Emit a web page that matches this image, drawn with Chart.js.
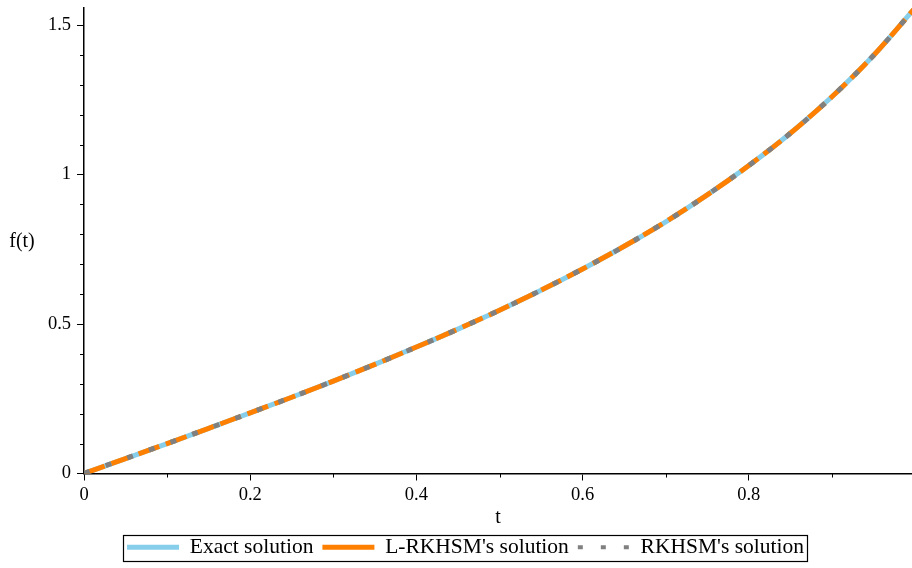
<!DOCTYPE html>
<html>
<head>
<meta charset="utf-8">
<script src="https://cdn.jsdelivr.net/npm/chart.js@4/dist/chart.umd.min.js"></script>
<style>
html,body{margin:0;padding:0;background:#fff;overflow:hidden;}
#wrap{width:916px;height:568px;position:relative;}
</style>
</head>
<body>
<div id="wrap"><canvas id="c"></canvas></div>
<script>
// ---- data ----
const tValues = [0,0.05,0.1,0.15,0.2,0.25,0.3,0.35,0.4,0.45,0.5,0.55,0.6,0.65,0.7,0.75,0.8,0.85,0.9,0.95,1.0];
const exactSolution = [0,0.050,0.100,0.151,0.203,0.255,0.309,0.365,0.423,0.483,0.546,0.613,0.684,0.760,0.842,0.932,1.030,1.138,1.260,1.398,1.557];
const lrkhsmSolution = [0,0.050,0.100,0.151,0.203,0.255,0.309,0.365,0.423,0.483,0.546,0.613,0.684,0.760,0.842,0.932,1.030,1.138,1.260,1.398,1.557];
const rkhsmSolution = [0,0.050,0.100,0.151,0.203,0.255,0.309,0.365,0.423,0.483,0.546,0.613,0.684,0.760,0.842,0.932,1.030,1.138,1.260,1.398,1.557];
const seriesNames = ["Exact solution", "L-RKHSM's solution", "RKHSM's solution"];
const xMajorTicks = [0,0.2,0.4,0.6,0.8];
const xMinorTicks = [0.1,0.3,0.5,0.7,0.9];
const yMajorTicks = [0,0.5,1,1.5];
const yMinorTicks = [0.1,0.2,0.3,0.4,0.6,0.7,0.8,0.9,1.1,1.2,1.3,1.4];

const FONT = "'Liberation Serif', 'Times New Roman', serif";
const toPts = ys => tValues.map((t,i)=>({x:t,y:ys[i]}));

const legendStyle = [
  {width:5, dash:[]},
  {width:5, dash:[]},
  {width:4, dash:[5,18]}
];

const extrasPlugin = {
  id:'extras',
  afterDraw(chart){
    const ctx = chart.ctx, xs = chart.scales.x, ys = chart.scales.y;
    const a = chart.chartArea;
    ctx.save();
    ctx.strokeStyle = '#000';
    ctx.lineWidth = 1;
    ctx.beginPath();
    xMinorTicks.forEach(v=>{
      const px = Math.round(xs.getPixelForValue(v))+0.5;
      ctx.moveTo(px, a.bottom); ctx.lineTo(px, a.bottom+4);
    });
    yMinorTicks.forEach(v=>{
      const py = Math.round(ys.getPixelForValue(v))+0.5;
      ctx.moveTo(a.left-4, py); ctx.lineTo(a.left, py);
    });
    ctx.stroke();
    // axis titles
    ctx.fillStyle = '#000';
    ctx.font = "20px " + FONT;
    ctx.textAlign = 'center';
    ctx.textBaseline = 'middle';
    ctx.fillText('f(t)', 22, 242);
    ctx.fillText('t', 498, 518);
    // legend border
    const lg = chart.legend;
    if (lg && lg.legendHitBoxes && lg.legendHitBoxes.length){
      const hb = lg.legendHitBoxes;
      let x0 = Math.min(...hb.map(h=>h.left)), x1 = Math.max(...hb.map(h=>h.left+h.width));
      let y0 = Math.min(...hb.map(h=>h.top)), y1 = Math.max(...hb.map(h=>h.top+h.height));
      ctx.lineWidth = 1.2;
      ctx.strokeRect(Math.round(x0-4)+0.5, Math.round(y0-2)+0.5, Math.round(x1-x0+7), Math.round(y1-y0+4));
    }
    ctx.restore();
  }
};

new Chart(document.getElementById('c'), {
  type:'line',
  data:{
    datasets:[
      {label:seriesNames[0], data:toPts(exactSolution), borderColor:'#87CEEB', backgroundColor:'#87CEEB', borderWidth:5, pointRadius:0, order:3, cubicInterpolationMode:'monotone'},
      {label:seriesNames[1], data:toPts(lrkhsmSolution), borderColor:'#FF8000', backgroundColor:'#FF8000', borderWidth:5, borderDash:[22,7], pointRadius:0, order:2, cubicInterpolationMode:'monotone'},
      {label:seriesNames[2], data:toPts(rkhsmSolution), borderColor:'#808080', backgroundColor:'#808080', borderWidth:5, borderDash:[6,17], pointRadius:0, order:1, cubicInterpolationMode:'monotone'}
    ]
  },
  options:{
    responsive:true,
    maintainAspectRatio:false,
    animation:false,
    events:[],
    layout:{padding:{top:8,right:1,left:16,bottom:0}},
    plugins:{
      tooltip:{enabled:false},
      legend:{
        display:true,
        position:'bottom',
        labels:{
          usePointStyle:true,
          pointStyleWidth:52,
          boxHeight:10,
          padding:9,
          color:'#000',
          font:{family:FONT, size:21.5},
          generateLabels(chart){
            return chart.data.datasets.map((ds,i)=>({
              text:ds.label, strokeStyle:ds.borderColor, fillStyle:ds.borderColor,
              lineWidth:legendStyle[i].width, lineDash:legendStyle[i].dash,
              pointStyle:'line', datasetIndex:i, hidden:false, fontColor:'#000'
            }));
          }
        }
      }
    },
    scales:{
      x:{
        type:'linear', min:0, max:1,
        afterBuildTicks(s){ s.ticks = xMajorTicks.map(v=>({value:v})); },
        afterFit(s){ s.height = 54; s.paddingLeft = 0; s.paddingRight = 0; },
        border:{display:true, color:'#000', width:1.5},
        grid:{drawOnChartArea:false, drawTicks:true, tickLength:7, color:'#000'},
        ticks:{color:'#000', padding:4, maxRotation:0, font:{family:FONT,size:18.5}, callback:v=>String(v)}
      },
      y:{
        type:'linear', min:0, max:1.557,
        afterBuildTicks(s){ s.ticks = yMajorTicks.map(v=>({value:v})); },
        afterFit(s){ s.width = 68; s.paddingTop = 0; s.paddingBottom = 0; },
        border:{display:true, color:'#000', width:1.5},
        grid:{drawOnChartArea:false, drawTicks:true, tickLength:7, color:'#000'},
        ticks:{color:'#000', padding:6, font:{family:FONT,size:18.5}, callback:v=>String(v)}
      }
    }
  },
  plugins:[extrasPlugin]
});
</script>
</body>
</html>
